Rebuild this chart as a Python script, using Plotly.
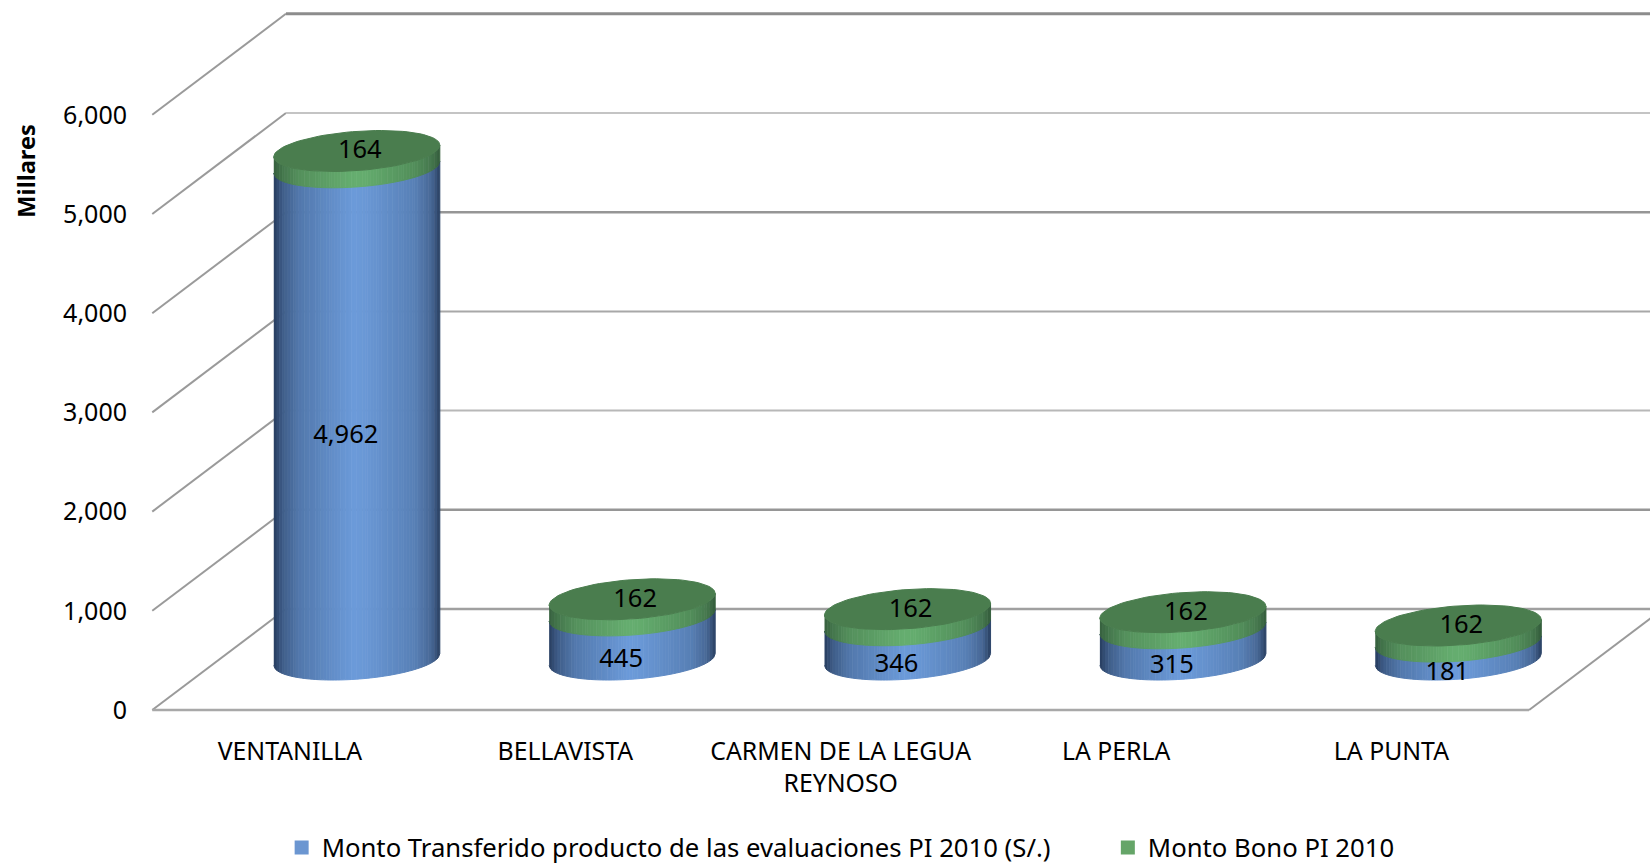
import numpy as np
import plotly.graph_objects as go

categories = ["VENTANILLA", "BELLAVISTA", "CARMEN DE LA LEGUA<br>REYNOSO", "LA PERLA", "LA PUNTA"]
monto_transferido = [4962, 445, 346, 315, 181]
monto_bono = [164, 162, 162, 162, 162]
y_ticks = [0, 1000, 2000, 3000, 4000, 5000, 6000]
name_a = "Monto Transferido producto de las evaluaciones PI 2010 (S/.)"
name_b = "Monto Bono PI 2010"

FONT = "Noto Sans"
TXT = "#000000"
# projection of the oblique 3-D box, in axis units
DX, DY = 0.4855, 1018
A, B, S = 0.3015, 198, 59       # ellipse half-width, half-height, shear
BASE = 509                      # value-axis height of the bar base centre
PX_X, PX_Y = 1 / 275.3, 1 / 0.0992   # axis units per pixel

BLUE_STOPS = [(0, (38, 60, 95)), (.05, (62, 92, 135)), (.15, (82, 120, 172)), (.48, (108, 155, 218)),
              (.55, (106, 152, 214)), (.85, (88, 128, 182)), (.95, (72, 104, 150)), (1, (42, 64, 98))]
GREEN_STOPS = [(0, (54, 96, 62)), (.05, (68, 118, 76)), (.15, (84, 144, 92)), (.48, (102, 174, 112)),
               (.55, (100, 172, 110)), (.85, (82, 142, 90)), (.95, (70, 120, 78)), (1, (52, 92, 60))]
TOP_FACE = "#4a7d4e"


def shade(stops, u):
    xs = [s[0] for s in stops]
    rgb = [np.interp(u, xs, [s[1][i] for s in stops]) for i in range(3)]
    return "rgb(%d,%d,%d)" % tuple(rgb)


fig = go.Figure()


def line(xs, ys, color, width):
    fig.add_trace(go.Scatter(x=xs, y=ys, mode="lines", line=dict(color=color, width=width),
                             showlegend=False, hoverinfo="skip"))


# walls and floor
back_style = {6000: ("#8c8c8c", 3), 5000: ("#c4c4c4", 2), 4000: ("#969696", 2.5), 3000: ("#a8a8a8", 2),
              2000: ("#b8b8b8", 2), 1000: ("#969696", 2.5), 0: ("#a0a0a0", 2.5)}
for v in y_ticks:
    line([0, DX], [v, v + DY], "#9a9a9a", 2)
    c, w = back_style[v]
    line([DX, 5 + DX], [v + DY, v + DY], c, w)
line([0, 5], [0, 0], "#a8a8a8", 2.5)
line([5, 5 + DX], [0, DY], "#9a9a9a", 2)


def lower_arc(x):
    c = np.clip(x / A, -1, 1)
    return -B * np.sqrt(1 - c ** 2) + S * c


def side(cx, v0, v1, stops, n=60):
    edges = np.linspace(-A, A, n + 1)
    for i in range(n):
        xs = np.linspace(edges[i], edges[i + 1], 3)
        low = v0 + lower_arc(xs)
        up = v1 + lower_arc(xs)
        col = shade(stops, (i + .5) / n)
        fig.add_trace(go.Scatter(x=np.r_[cx + xs, cx + xs[::-1]], y=np.r_[low, up[::-1]], mode="lines",
                                 fill="toself", fillcolor=col, line=dict(color=col, width=1),
                                 showlegend=False, hoverinfo="skip"))


def cap(cx, v):
    t = np.linspace(0, 2 * np.pi, 90)
    fig.add_trace(go.Scatter(x=cx + A * np.cos(t), y=v + B * np.sin(t) + S * np.cos(t), mode="lines",
                             fill="toself", fillcolor=TOP_FACE, line=dict(color=TOP_FACE, width=1),
                             showlegend=False, hoverinfo="skip"))


lx, ly, lt = [], [], []
for i, (a, b) in enumerate(zip(monto_transferido, monto_bono)):
    cx = i + .5 + DX / 2
    side(cx, BASE, BASE + a, BLUE_STOPS)
    side(cx, BASE + a, BASE + a + b, GREEN_STOPS)
    cap(cx, BASE + a + b)
    lx += [cx - 11 * PX_X, cx + 3 * PX_X]
    ly += [BASE + a / 2 - 23 * PX_Y, BASE + a + b - 1 * PX_Y]
    lt += [f"{a:,}", f"{b:,}"]

fig.add_trace(go.Scatter(x=lx, y=ly, text=lt, mode="text", textposition="middle center",
                         textfont=dict(family=FONT, size=25.5, color=TXT), showlegend=False, hoverinfo="skip"))

fig.add_trace(go.Scatter(x=[None], y=[None], name=name_a, mode="markers",
                         marker=dict(symbol="square", size=14, color="#6b96d1"), legend="legend"))
fig.add_trace(go.Scatter(x=[None], y=[None], name=name_b, mode="markers",
                         marker=dict(symbol="square", size=14, color="#65a568"), legend="legend2"))

legend_style = dict(orientation="h", xanchor="left", yanchor="middle", y=-0.189, itemsizing="trace",
                    font=dict(family=FONT, size=25.7, color=TXT), bgcolor="rgba(0,0,0,0)")

fig.update_layout(
    width=1650, height=866, autosize=False,
    margin=dict(l=144.3, r=0, t=0, b=153, autoexpand=False),
    paper_bgcolor="white", plot_bgcolor="white",
    font=dict(family=FONT, size=25, color=TXT),
    xaxis=dict(range=[-0.03, 5.439], tickmode="array", tickvals=[i + .5 for i in range(5)], ticktext=categories,
               showgrid=False, zeroline=False, showline=False, ticks="outside", ticklen=16,
               tickcolor="rgba(0,0,0,0)", tickfont=dict(family=FONT, size=24.8, color=TXT)),
    yaxis=dict(range=[-30, 7157], tickmode="array", tickvals=y_ticks, tickformat=",",
               showgrid=False, zeroline=False, showline=False, ticks="outside", ticklen=11,
               tickcolor="rgba(0,0,0,0)", tickfont=dict(family=FONT, size=25, color=TXT)),
    legend=dict(x=0.0914, **legend_style),
    legend2=dict(x=0.640, **legend_style),
    annotations=[dict(text="<b>Millares</b>", xref="paper", yref="paper", x=-0.0786, y=1 - 171 / 713,
                      xanchor="center", yanchor="middle", textangle=-90, showarrow=False,
                      font=dict(family=FONT, size=23.6, color=TXT))],
)
fig.write_html("out.html", config={"displayModeBar": False},
               post_script="document.body.style.margin='0';document.body.style.overflow='hidden';")
